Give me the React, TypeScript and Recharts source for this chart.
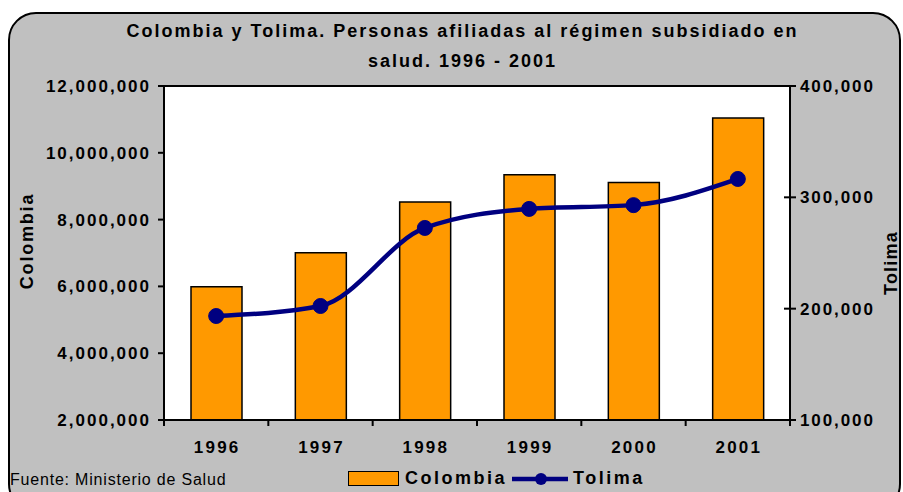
import React from 'react';
import {
  ComposedChart,
  Bar,
  Line,
  XAxis,
  YAxis,
  CartesianGrid,
  ReferenceLine,
  Label,
} from 'recharts';

const years = ['1996', '1997', '1998', '1999', '2000', '2001'];
const colombia = [5990000, 7010000, 8530000, 9340000, 9110000, 11040000];
const tolima = [193400, 202400, 272500, 289600, 293000, 316500];
const leftTicks = [2000000, 4000000, 6000000, 8000000, 10000000, 12000000];
const rightTicks = [100000, 200000, 300000, 400000];

const data = years.map((y, i) => ({ year: y, Colombia: colombia[i], Tolima: tolima[i] }));

const ORANGE = '#FF9900';
const NAVY = '#000080';
const FONT = '"Liberation Sans", Arial, sans-serif';

const W = 903;
const H = 492;
const PLOT_LEFT = 164;
const PLOT_RIGHT = 790;
const HALF_BAND = (PLOT_RIGHT - PLOT_LEFT) / years.length / 2;

const fmt = (v: number) => v.toLocaleString('en-US');

const XTick = (props: any) => {
  const { x, y, payload, index } = props;
  const axisY = y - 6;
  return (
    <g>
      <line x1={x - HALF_BAND} x2={x - HALF_BAND} y1={axisY} y2={axisY + 6} stroke="#000" strokeWidth={2} />
      {index === years.length - 1 && (
        <line x1={x + HALF_BAND} x2={x + HALF_BAND} y1={axisY} y2={axisY + 6} stroke="#000" strokeWidth={2} />
      )}
      <text x={x + 1} y={axisY + 33} textAnchor="middle" fontFamily={FONT} fontWeight="bold" fontSize={17} letterSpacing={2.2} fill="#000">
        {payload.value}
      </text>
    </g>
  );
};

const LeftTick = (props: any) => {
  const { x, y, payload } = props;
  return (
    <text x={x + 1} y={y + 6} textAnchor="end" fontFamily={FONT} fontWeight="bold" fontSize={17} letterSpacing={2} fill="#000">
      {fmt(payload.value)}
    </text>
  );
};

const RightTick = (props: any) => {
  const { x, y, payload } = props;
  return (
    <g>
      <line x1={x - 17} x2={x - 5} y1={y} y2={y} stroke="#000" strokeWidth={2} />
      <text x={x - 1} y={y + 6} textAnchor="start" fontFamily={FONT} fontWeight="bold" fontSize={17} letterSpacing={1.9} fill="#000">
        {fmt(payload.value)}
      </text>
    </g>
  );
};

export default function App() {
  return (
    <div style={{ position: 'absolute', left: 0, top: 0, width: W, height: H, overflow: 'hidden', background: '#fff', fontFamily: FONT }}>
      <div
        style={{
          position: 'absolute',
          left: 8,
          top: 12,
          width: 893,
          height: 500,
          background: '#C0C0C0',
          border: '2px solid #000',
          borderRadius: 28,
          boxSizing: 'border-box',
        }}
      />
      <div style={{ position: 'absolute', left: 0, top: 16, width: 925, textAlign: 'center', fontWeight: 'bold', fontSize: 18, letterSpacing: 2, lineHeight: '30px', color: '#000' }}>
        Colombia y Tolima. Personas afiliadas al régimen subsidiado en
        <br />
        salud. 1996 - 2001
      </div>
      <div style={{ position: 'absolute', left: 0, top: 0 }}>
        <ComposedChart width={W} height={H} data={data} margin={{ top: 86, right: 13, bottom: 32, left: 14 }}>
          <CartesianGrid horizontal={false} vertical={false} fill="#fff" />
          <XAxis dataKey="year" height={40} axisLine={{ stroke: '#000', strokeWidth: 2 }} tickLine={false} tickSize={6} tickMargin={0} tick={<XTick />} interval={0} />
          <YAxis
            yAxisId="left"
            width={150}
            domain={[2000000, 12000000]}
            ticks={leftTicks}
            allowDataOverflow
            axisLine={{ stroke: '#000', strokeWidth: 2 }}
            tickLine={{ stroke: '#000', strokeWidth: 2 }}
            tickSize={6}
            tickMargin={8}
            tick={<LeftTick />}
          >
            <Label
              content={() => (
                <text x={33} y={241} transform="rotate(-90 33 241)" textAnchor="middle" fontFamily={FONT} fontWeight="bold" fontSize={18} letterSpacing={1.8} fill="#000">
                  Colombia
                </text>
              )}
            />
          </YAxis>
          <YAxis
            yAxisId="right"
            orientation="right"
            width={100}
            domain={[100000, 400000]}
            ticks={rightTicks}
            axisLine={{ stroke: '#000', strokeWidth: 2 }}
            tickLine={false}
            tickSize={6}
            tickMargin={5}
            tick={<RightTick />}
          >
            <Label
              content={() => (
                <text x={897} y={263} transform="rotate(-90 897 263)" textAnchor="middle" fontFamily={FONT} fontWeight="bold" fontSize={18} letterSpacing={1.2} fill="#000">
                  Tolima
                </text>
              )}
            />
          </YAxis>
          <ReferenceLine yAxisId="left" y={12000000} stroke="#000" strokeWidth={2} ifOverflow="visible" />
          <Bar yAxisId="left" dataKey="Colombia" fill={ORANGE} stroke="#000" strokeWidth={1.5} barSize={51} isAnimationActive={false} />
          <Line
            yAxisId="right"
            dataKey="Tolima"
            type="monotone"
            stroke={NAVY}
            strokeWidth={4.5}
            dot={{ r: 7.5, fill: NAVY, stroke: NAVY, strokeWidth: 1 }}
            activeDot={false}
            isAnimationActive={false}
          />
        </ComposedChart>
      </div>
      <div style={{ position: 'absolute', left: 10, top: 471, fontSize: 16, letterSpacing: 0.8, color: '#000' }}>
        Fuente: Ministerio de Salud
      </div>
      <div style={{ position: 'absolute', left: 348, top: 468, display: 'flex', alignItems: 'center', fontWeight: 'bold', fontSize: 18, letterSpacing: 2.5, color: '#000' }}>
        <span style={{ display: 'inline-block', width: 49, height: 13, background: ORANGE, border: '1.5px solid #000' }} />
        <span style={{ marginLeft: 6 }}>{'Colombia'}</span>
        <svg width={60} height={20} style={{ marginLeft: 3 }}>
          <line x1={2} x2={58} y1={10} y2={10} stroke={NAVY} strokeWidth={4.5} />
          <circle cx={31} cy={10} r={6} fill={NAVY} />
        </svg>
        <span style={{ marginLeft: 3 }}>{'Tolima'}</span>
      </div>
    </div>
  );
}
